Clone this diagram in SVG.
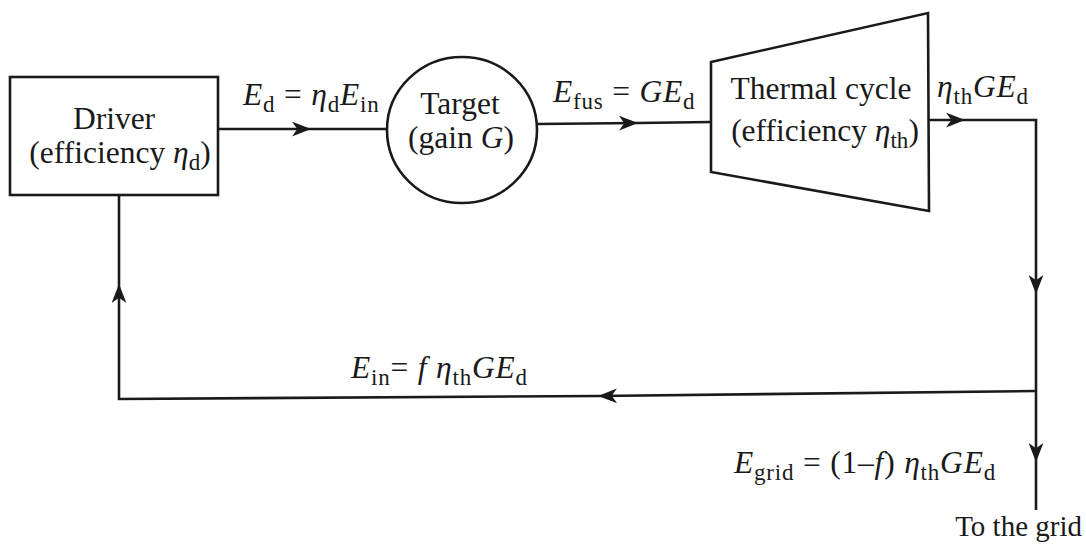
<svg xmlns="http://www.w3.org/2000/svg" width="1086" height="545" viewBox="0 0 1086 545">
<style>
.shape{fill:none;stroke:#1a1a1a;stroke-width:2.6}
.ln{fill:none;stroke:#1a1a1a;stroke-width:2.6}
text{font-family:"Liberation Serif","Times New Roman",serif;font-size:31.5px;fill:#1a1a1a}
.m{letter-spacing:0.8px}
.it{font-style:italic}
.sb{font-size:23px}
</style>
<defs>
<marker id="ah" viewBox="0 0 18 14" refX="18" refY="7" markerWidth="19" markerHeight="15" markerUnits="userSpaceOnUse" orient="auto">
<path d="M0,0 L18,7 L0,14 L5,7 z" fill="#1a1a1a"/>
</marker>
</defs>
<rect width="1086" height="545" fill="#fff"/>
<g id="driver">
<rect class="shape" x="10" y="77" width="208" height="118"/>
<text x="114" y="129" text-anchor="middle">Driver</text>
<text x="120" y="163" text-anchor="middle">(efficiency <tspan class="it">η</tspan><tspan class="sb" dy="7">d</tspan><tspan dy="-7">)</tspan></text>
</g>
<g id="target">
<ellipse class="shape" cx="462" cy="130" rx="75" ry="73"/>
<text x="460" y="114" text-anchor="middle">Target</text>
<text x="461" y="148" text-anchor="middle">(gain <tspan class="it">G</tspan>)</text>
</g>
<g id="thermal">
<polygon class="shape" points="711,62 928,13 929,211 711,172"/>
<text x="821" y="99" text-anchor="middle">Thermal cycle</text>
<text x="825" y="141" text-anchor="middle">(efficiency <tspan class="it">η</tspan><tspan class="sb" dy="7">th</tspan><tspan dy="-7">)</tspan></text>
</g>
<g id="connectors">
<path class="ln" d="M218,129 L311,129" marker-end="url(#ah)"/>
<path class="ln" d="M311,129 L387,129"/>
<path class="ln" d="M537,124 L638,123" marker-end="url(#ah)"/>
<path class="ln" d="M638,123 L711,122"/>
<path class="ln" d="M929,120 L965,120" marker-end="url(#ah)"/>
<path class="ln" d="M965,120 L1036,120 L1036,294" marker-end="url(#ah)"/>
<path class="ln" d="M1036,294 L1036,462" marker-end="url(#ah)"/>
<path class="ln" d="M1036,462 L1036,510"/>
<path class="ln" d="M1036,391 L598,396" marker-end="url(#ah)"/>
<path class="ln" d="M598,396 L119,399 L119,284" marker-end="url(#ah)"/>
<path class="ln" d="M119,284 L119,194"/>
</g>
<g id="labels">
<text class="m" x="243" y="105"><tspan class="it">E</tspan><tspan class="sb" dy="7">d</tspan><tspan dy="-7"> = </tspan><tspan class="it">η</tspan><tspan class="sb" dy="7">d</tspan><tspan class="it" dy="-7">E</tspan><tspan class="sb" dy="7">in</tspan></text>
<text class="m" x="553" y="102"><tspan class="it">E</tspan><tspan class="sb" dy="7">fus</tspan><tspan dy="-7"> = </tspan><tspan class="it">GE</tspan><tspan class="sb" dy="7">d</tspan></text>
<text class="m" x="937" y="97"><tspan class="it">η</tspan><tspan class="sb" dy="7">th</tspan><tspan class="it" dy="-7">GE</tspan><tspan class="sb" dy="7">d</tspan></text>
<text class="m" x="351" y="378"><tspan class="it">E</tspan><tspan class="sb" dy="7">in</tspan><tspan dy="-7">= </tspan><tspan class="it">f η</tspan><tspan class="sb" dy="7">th</tspan><tspan class="it" dy="-7">GE</tspan><tspan class="sb" dy="7">d</tspan></text>
<text class="m" x="734" y="473"><tspan class="it">E</tspan><tspan class="sb" dy="7">grid</tspan><tspan dy="-7"> = (1–</tspan><tspan class="it">f</tspan><tspan>) </tspan><tspan class="it">η</tspan><tspan class="sb" dy="7">th</tspan><tspan class="it" dy="-7">GE</tspan><tspan class="sb" dy="7">d</tspan></text>
<text x="1082" y="536" text-anchor="end" style="font-size:29px">To the grid</text>
</g>
</svg>
